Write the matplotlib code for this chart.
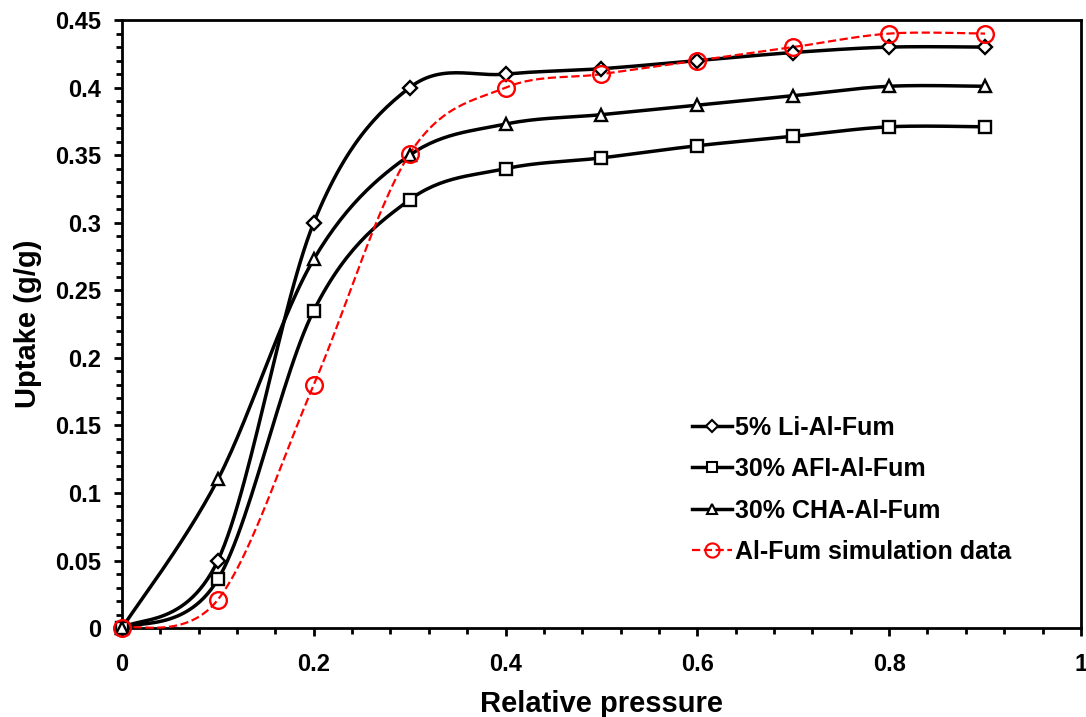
import numpy as np
import matplotlib.pyplot as plt
from matplotlib.ticker import MultipleLocator, FuncFormatter

plt.rcParams['font.family'] = ['Liberation Sans', 'DejaVu Sans']
plt.rcParams['font.weight'] = 'bold'

pressure = [0, 0.1, 0.2, 0.3, 0.4, 0.5, 0.6, 0.7, 0.8, 0.9]
li_al_fum = [0, 0.05, 0.30, 0.40, 0.41, 0.414, 0.42, 0.426, 0.43, 0.43]
afi_al_fum = [0, 0.036, 0.235, 0.317, 0.34, 0.348, 0.357, 0.364, 0.371, 0.371]
cha_al_fum = [0, 0.11, 0.273, 0.35, 0.373, 0.38, 0.387, 0.394, 0.401, 0.401]
sim_al_fum = [0, 0.021, 0.18, 0.351, 0.40, 0.41, 0.42, 0.43, 0.44, 0.44]

labels = ['5% Li-Al-Fum', '30% AFI-Al-Fum', '30% CHA-Al-Fum', 'Al-Fum simulation data']


def smooth(x, y, n=30):
    # Excel-like smoothed line: cubic Bezier segments with 1/6 tangents
    p = np.column_stack([x, y]).astype(float)
    ext = np.vstack([p[0], p, p[-1]])
    out = []
    t = np.linspace(0, 1, n)[:, None]
    for i in range(len(p) - 1):
        p0, p3 = ext[i + 1], ext[i + 2]
        c1 = p0 + (ext[i + 2] - ext[i]) / 6
        c2 = p3 - (ext[i + 3] - ext[i + 1]) / 6
        seg = ((1 - t) ** 3) * p0 + 3 * ((1 - t) ** 2) * t * c1 + 3 * (1 - t) * t ** 2 * c2 + t ** 3 * p3
        out.append(seg)
    out = np.vstack(out)
    return out[:, 0], out[:, 1]


fig = plt.figure(figsize=(10.86, 7.17), dpi=100)
ax = fig.add_axes([0.1123, 0.124, 0.883, 0.848])

series = [
    (li_al_fum, 'D', 7, 'black', '-', 2.5, 'white'),
    (afi_al_fum, 's', 9, 'black', '-', 2.5, 'white'),
    (cha_al_fum, '^', 9, 'black', '-', 2.5, 'white'),
    (sim_al_fum, 'o', 12, 'red', '--', 1.6, 'none'),
]

for (vals, mk, ms, col, ls, lw, fc), lab in zip(series, labels):
    sx, sy = smooth(pressure, vals)
    ax.plot(sx, sy, color=col, linestyle=ls, linewidth=lw, zorder=3, clip_on=False)
    ax.plot(pressure, vals, linestyle='none', marker=mk, markersize=ms, clip_on=False,
            markerfacecolor=fc, markeredgecolor=col, markeredgewidth=1.7, zorder=4)
    ax.plot([], [], color=col, linestyle=ls, linewidth=lw, marker=mk, markersize=ms * 0.85,
            markerfacecolor=fc, markeredgecolor=col, markeredgewidth=1.5, label=lab)

ax.set_xlim(0, 1)
ax.set_ylim(0, 0.45)
ax.xaxis.set_major_locator(MultipleLocator(0.2))
ax.xaxis.set_minor_locator(MultipleLocator(0.04))
ax.yaxis.set_major_locator(MultipleLocator(0.05))
ax.yaxis.set_minor_locator(MultipleLocator(0.01))
ax.xaxis.set_major_formatter(FuncFormatter(lambda v, p: '%g' % round(v, 2)))
ax.yaxis.set_major_formatter(FuncFormatter(lambda v, p: '%g' % round(v, 2)))

for s in ax.spines.values():
    s.set_linewidth(2)
ax.tick_params(which='major', direction='out', length=6, width=2, labelsize=17)
ax.tick_params(which='minor', direction='out', length=4, width=2)
ax.tick_params(axis='y', which='major', pad=9)
ax.tick_params(axis='x', which='major', pad=12)

ax.set_xlabel('Relative pressure', fontsize=21, fontweight='bold', labelpad=10)
ax.set_ylabel('Uptake (g/g)', fontsize=21, fontweight='bold', labelpad=9)

ax.legend(loc='upper left', bbox_to_anchor=(0.581, 0.37), frameon=False, fontsize=18,
          handlelength=1.6, handletextpad=0.15, labelspacing=0.7, borderpad=0)

fig.savefig('out.png', dpi=100)
